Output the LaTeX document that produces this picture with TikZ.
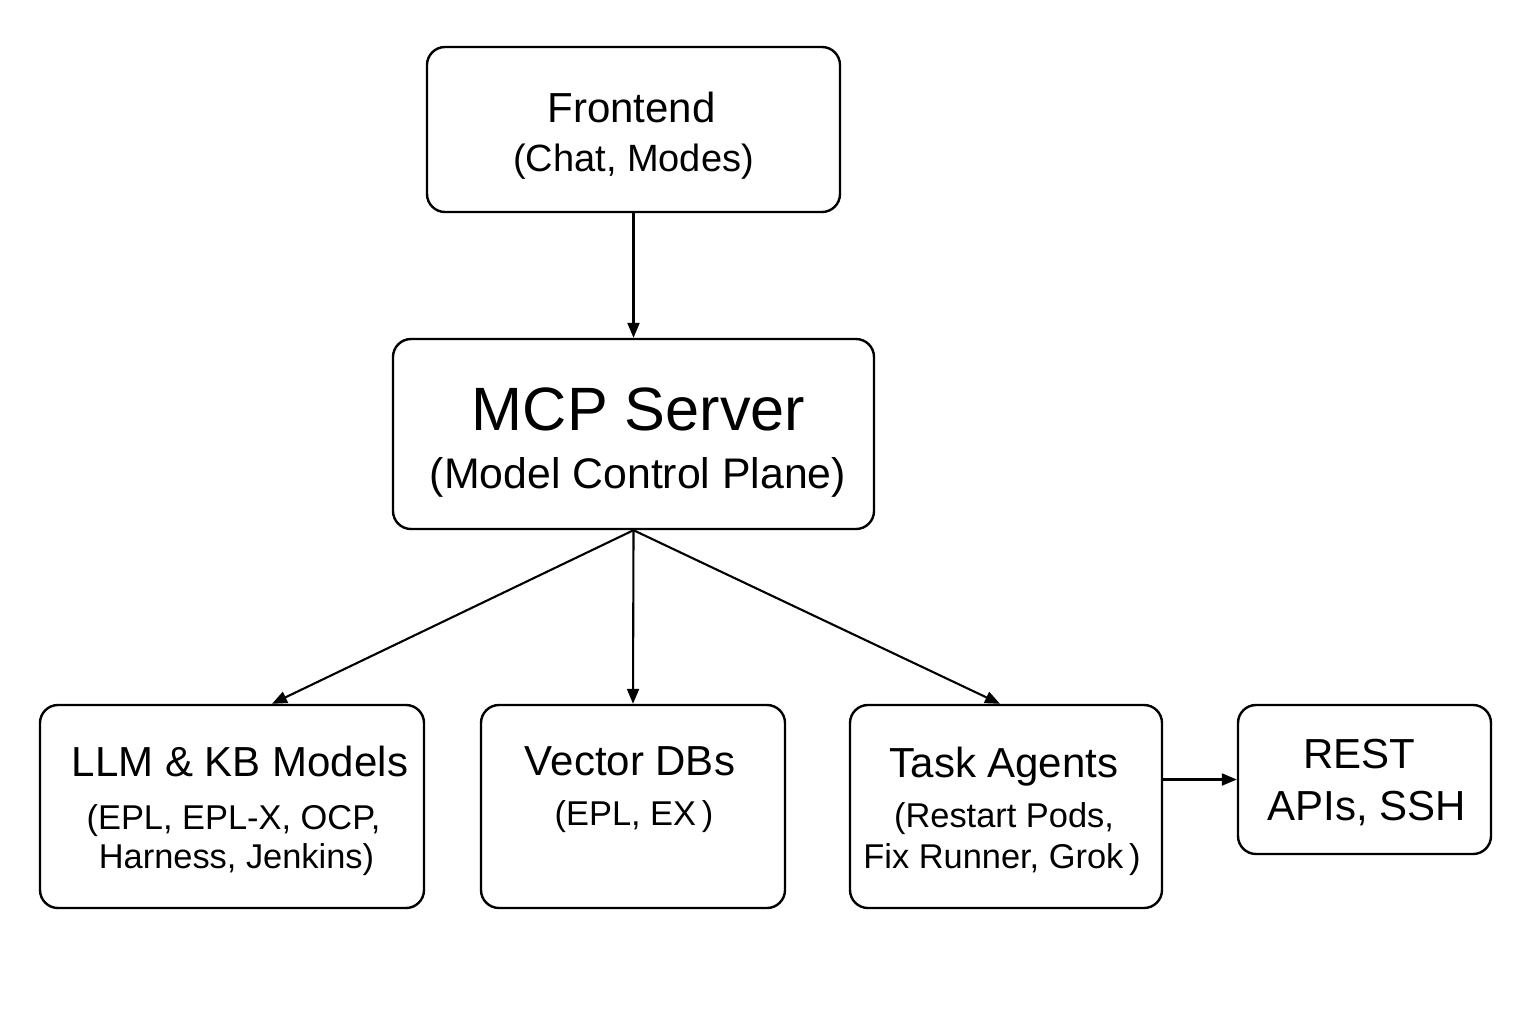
\documentclass[tikz,border=0pt]{standalone}
\usepackage{fontspec}
\setmainfont{Liberation Sans}
\usetikzlibrary{arrows.meta}
\begin{document}
\begin{tikzpicture}[x=0.5pt,y=-0.5pt,
  box/.style={draw, rounded corners=9pt, line width=1.2pt, inner sep=0pt, rectangle},
  txt/.style={anchor=base, inner sep=0pt},
  big/.style={font=\fontsize{21}{25}\selectfont},
  small/.style={font=\fontsize{17.2}{21}\selectfont},
  arr/.style={line width=1.05pt, -{Triangle[length=7.5pt,width=6pt]}}]
\useasboundingbox[fill=white] (0,0) rectangle (1536,1024);
% boxes
\node[box, minimum width=206.5pt, minimum height=82.5pt] (front) at (633.5,129.5) {};
\node[box, minimum width=240.5pt, minimum height=95pt] (mcp) at (633.5,434) {};
\node[box, minimum width=192pt, minimum height=101.5pt] (llm) at (232,806.5) {};
\node[box, minimum width=152pt, minimum height=101.5pt] (vec) at (633,806.5) {};
\node[box, minimum width=156pt, minimum height=101.5pt] (task) at (1006,806.5) {};
\node[box, minimum width=126.5pt, minimum height=74.5pt] (rest) at (1364.5,779.5) {};
% texts
\node[txt, big] (t1) at (631.5,122) {Frontend};
\node[txt, font=\fontsize{19}{23}\selectfont] (t2) at (633.5,171) {(Chat, Modes)};
\node[txt, font=\fontsize{30.6}{36}\selectfont] (t3) at (638.5,430) {MCP Server};
\node[txt, font=\fontsize{21.4}{25}\selectfont] (t4) at (638,488) {(Model Control Plane)};
\node[txt, big] (t5) at (240,776) {LLM \& KB Models};
\node[txt, small] (t6) at (233.5,829) {(EPL, EPL-X, OCP,};
\node[txt, small] (t7) at (236.5,868) {Harness, Jenkins)};
\node[txt, big] (t8) at (630,775) {Vector DBs};
\node[txt, small] (t9) at (634,825) {(EPL, EX\,)};
\node[txt, big] (t10) at (1004,777) {Task Agents};
\node[txt, small] (t11) at (1004,827) {(Restart Pods,};
\node[txt, small] (t12) at (1002,868) {Fix Runner, Grok\,)};
\node[txt, big] (t13) at (1359,768) {REST};
\node[txt, big] (t14) at (1367,820) {APIs, SSH};
% connectors
\draw[arr] (front.south) -- (mcp.north);
\draw[arr] (mcp.south) -- ([xshift=20pt]llm.north);
\draw[arr] (mcp.south) -- (vec.north);
\draw[arr] (mcp.south) -- ([xshift=-3pt]task.north);
\draw[arr] (rest.west -| task.east) -- (rest.west);
\end{tikzpicture}
\end{document}
